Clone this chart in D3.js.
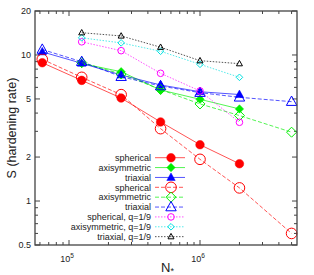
<!DOCTYPE html>
<html>
<head>
<meta charset="utf-8">
<script src="https://cdn.jsdelivr.net/npm/d3@7"></script>
<style>
  body { margin: 0; background: #fff; }
  text { font-family: "Liberation Sans", Arial, sans-serif; fill: #222; }
</style>
</head>
<body>
<svg id="chart" width="314" height="275"></svg>
<script>
// particle numbers
const nAll = [62500, 125000, 250000, 500000, 1000000, 2000000, 5000000];

// hardening rate S for each run set
const sphFull   = [8.85, 6.7, 5.07, 3.48, 2.43, 1.8];
const axiFull   = [null, 8.74, 7.68, 5.76, 4.97, 4.27];
const triFull   = [10.5, 8.77, 7.29, 6.23, 5.6, 5.36];
const sphOpen   = [9.34, 7.03, 5.35, 3.13, 1.93, 1.23, 0.6];
const axiOpen   = [null, 8.88, 7.41, 5.8, 4.62, 3.85, 2.96];
const triOpen   = [10.9, 8.99, 7.1, 6.13, 5.52, 5.13, 4.79];
const sphQ      = [null, 12.3, 10.7, 7.49, 5.67, 3.46];
const axiQ      = [null, 13.1, 12.1, 10.6, 8.63, 7.03];
const triQ      = [null, 14.2, 13.5, 11.3, 9.14, 8.72];

const yMajor = [0.5, 1, 2, 5, 10, 20];
const yMinor = [0.6, 0.7, 0.8, 0.9, 3, 4, 6, 7, 8, 9];
const xMajor = [1e5, 1e6];
const xMinor = [6e4, 7e4, 8e4, 9e4, 2e5, 3e5, 4e5, 5e5, 6e5, 7e5, 8e5, 9e5, 2e6, 3e6, 4e6, 5e6];

const series = [
  { name: 'spherical', vals: sphFull, color: '#ff0000', dash: null, shape: 'circle', fill: true, size: 4.3 },
  { name: 'axisymmetric', vals: axiFull, color: '#00ee00', dash: null, shape: 'diamond', fill: true, size: 4.2 },
  { name: 'triaxial', vals: triFull, color: '#0000ff', dash: null, shape: 'triangle', fill: true, size: 4.2 },
  { name: 'spherical', vals: sphOpen, color: '#ff0000', dash: '4,2', shape: 'circle', fill: false, size: 5.3 },
  { name: 'axisymmetric', vals: axiOpen, color: '#00ee00', dash: '4,2', shape: 'diamond', fill: false, size: 5 },
  { name: 'triaxial', vals: triOpen, color: '#0000ff', dash: '4,2', shape: 'triangle', fill: false, size: 5.2 },
  { name: 'spherical, q=1/9', vals: sphQ, color: '#ff00ff', dash: '1.5,1.5', shape: 'circle', fill: false, size: 3.3 },
  { name: 'axisymmetric, q=1/9', vals: axiQ, color: '#00e0e0', dash: '1.5,1.5', shape: 'diamond', fill: false, size: 3.3 },
  { name: 'triaxial, q=1/9', vals: triQ, color: '#000000', dash: '1.5,1.5', shape: 'triangle', fill: false, size: 3 }
];

const margin = { left: 35, right: 17, top: 11, bottom: 30 };
const W = 314, H = 275;

const svg = d3.select('#chart');

const x = d3.scaleLog().domain([5.5e4, 5.5e6]).range([margin.left, W - margin.right]);
const y = d3.scaleLog().domain([0.5, 20]).range([H - margin.bottom, margin.top]);

const x0 = x.range()[0], x1 = x.range()[1];
const y0 = y.range()[0], y1 = y.range()[1];

function markerPath(shape, s) {
  if (shape === 'circle') return d3.symbol(d3.symbolCircle, Math.PI * s * s)();
  if (shape === 'diamond') return `M0,${-s}L${s},0L0,${s}L${-s},0Z`;
  // triangle
  const h = s * 1.8;
  return `M0,${-h * 0.6}L${s},${h * 0.4}L${-s},${h * 0.4}Z`;
}

// ticks on all four sides, pointing inward
const tickG = svg.append('g').attr('stroke', '#444').attr('stroke-width', 1);
yMajor.forEach(v => {
  tickG.append('line').attr('x1', x0).attr('x2', x0 + 5).attr('y1', y(v)).attr('y2', y(v));
  tickG.append('line').attr('x1', x1).attr('x2', x1 - 5).attr('y1', y(v)).attr('y2', y(v));
});
yMinor.forEach(v => {
  tickG.append('line').attr('x1', x0).attr('x2', x0 + 3).attr('y1', y(v)).attr('y2', y(v));
  tickG.append('line').attr('x1', x1).attr('x2', x1 - 3).attr('y1', y(v)).attr('y2', y(v));
});
xMajor.forEach(v => {
  tickG.append('line').attr('x1', x(v)).attr('x2', x(v)).attr('y1', y0).attr('y2', y0 - 5);
  tickG.append('line').attr('x1', x(v)).attr('x2', x(v)).attr('y1', y1).attr('y2', y1 + 5);
});
xMinor.forEach(v => {
  tickG.append('line').attr('x1', x(v)).attr('x2', x(v)).attr('y1', y0).attr('y2', y0 - 3);
  tickG.append('line').attr('x1', x(v)).attr('x2', x(v)).attr('y1', y1).attr('y2', y1 + 3);
});

// tick labels
yMajor.forEach(v => {
  svg.append('text').attr('x', x0 - 4).attr('y', y(v) + 3.2)
    .attr('text-anchor', 'end').style('font-size', '9px').text(v);
});
xMajor.forEach(v => {
  const t = svg.append('text').attr('x', x(v) - 2).attr('y', y0 + 17)
    .attr('text-anchor', 'middle').style('font-size', '9px');
  t.append('tspan').text('10');
  t.append('tspan').attr('dy', -4).style('font-size', '6.5px').text(Math.round(Math.log10(v)));
});

// axis titles
svg.append('text').attr('transform', `translate(15.5,${(y0 + y1) / 2}) rotate(-90)`)
  .attr('text-anchor', 'middle').style('font-size', '12.5px').text('S (hardening rate)');
const xl = svg.append('text').attr('x', 161).attr('y', 272).style('font-size', '13px');
xl.append('tspan').text('N');
xl.append('tspan').attr('dy', 2).style('font-size', '9px').text('*');

// series lines and markers
const line = d3.line()
  .defined(d => d.v != null)
  .x(d => x(d.n))
  .y(d => y(d.v));

series.forEach(s => {
  const pts = s.vals.map((v, i) => ({ n: nAll[i], v: v })).filter(d => d.v != null);
  svg.append('path').datum(pts)
    .attr('d', line)
    .attr('fill', 'none')
    .attr('stroke', s.color)
    .attr('stroke-width', 0.9)
    .attr('stroke-opacity', 0.75)
    .attr('stroke-dasharray', s.dash);
  svg.selectAll(null).data(pts).enter().append('path')
    .attr('transform', d => `translate(${x(d.n)},${y(d.v)})`)
    .attr('d', markerPath(s.shape, s.size))
    .attr('fill', s.fill ? s.color : 'none')
    .attr('stroke', s.color)
    .attr('stroke-width', s.fill ? 0.5 : 1);
});

// legend
const lgY = 157.7, lgStep = 9.87;
series.forEach((s, i) => {
  const yy = lgY + i * lgStep;
  svg.append('text').attr('x', 151).attr('y', yy + 3.2)
    .attr('text-anchor', 'end').style('font-size', '9px').text(s.name);
  svg.append('line').attr('x1', 155).attr('x2', 185).attr('y1', yy).attr('y2', yy)
    .attr('stroke', s.color).attr('stroke-width', 0.9).attr('stroke-opacity', 0.75)
    .attr('stroke-dasharray', s.dash);
  svg.append('path').attr('transform', `translate(171,${yy})`)
    .attr('d', markerPath(s.shape, s.size))
    .attr('fill', s.fill ? s.color : 'none')
    .attr('stroke', s.color)
    .attr('stroke-width', s.fill ? 0.5 : 1);
});

// frame
svg.append('rect').attr('x', x0).attr('y', y1).attr('width', x1 - x0).attr('height', y0 - y1)
  .attr('fill', 'none').attr('stroke', '#444').attr('stroke-width', 1.3);
</script>
</body>
</html>
